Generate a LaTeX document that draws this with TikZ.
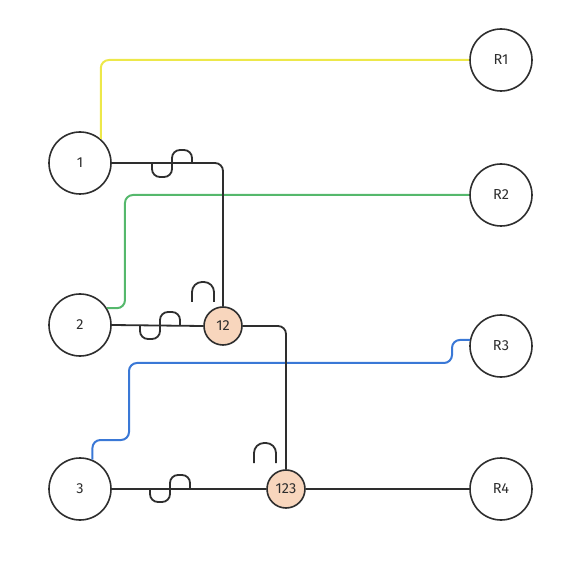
\documentclass[tikz,border=0pt]{standalone}
\usepackage{fontspec}
\setmainfont{Fira Sans}
\definecolor{ink}{HTML}{2E2E2E}
\definecolor{peach}{HTML}{F8D6BD}
\definecolor{lnyellow}{HTML}{EDE84A}
\definecolor{lngreen}{HTML}{55B86C}
\definecolor{lnblue}{HTML}{3A78D6}
\tikzset{
  bignode/.style={circle, draw=ink, line width=1.6pt, minimum size=62pt, inner sep=0pt, font=\fontsize{14.5}{16}\selectfont, text=ink},
  joinnode/.style={circle, draw=ink, fill=peach, line width=1.6pt, minimum size=38pt, inner sep=0pt, font=\fontsize{14.5}{16}\selectfont, text=ink},
  wire/.style={draw=ink, line width=1.8pt, rounded corners=8pt},
  cwire/.style={line width=2pt, rounded corners=8pt},
  squig/.pic={\draw[ink, line width=1.8pt, rounded corners=8pt] (0,0) -- (0,13) -- (20,13) -- (20,-14) -- (40,-14) -- (40,0);},
  arch/.pic={\draw[ink, line width=1.8pt, rounded corners=10pt] (0,0) -- (0,-20) -- (22,-20) -- (22,0);}
}
\begin{document}
\begin{tikzpicture}[x=1pt, y=-1pt]
\useasboundingbox (0,0) rectangle (587,564);
\node[bignode] (n1) at (80,163) {1};
\node[bignode] (n2) at (80,325) {2};
\node[bignode] (n3) at (80,489) {3};
\node[bignode] (r1) at (501,60) {R1};
\node[bignode] (r2) at (501,195) {R2};
\node[bignode] (r3) at (501,346) {R3};
\node[bignode] (r4) at (501,489) {R4};
\node[joinnode] (n12) at (223,326) {12};
\node[joinnode] (n123) at (286,489) {123};
% coloured wires
\draw[cwire, lnyellow] (n1.49) |- (r1.west);
\draw[cwire, lngreen] (n2.32) -- ++(18,0) |- (r2.west);
\draw[cwire, lnblue] (n3.67) |- (129,440) |- (452,363) |- (r3.169);
% black wires
\draw[wire] (n1.east) -| (n12.north);
\draw[wire] (n2.east) -- (n12.west);
\draw[wire] (n12.east) -| (n123.north);
\draw[wire] (n3.east) -- (n123.west);
\draw[wire] (n123.east) -- (r4.west);
% jumps
\pic at (152,164) {squig};
\pic at (140,326) {squig};
\pic at (150,489) {squig};
\pic at (192,302) {arch};
\pic at (254,463) {arch};
\end{tikzpicture}
\end{document}
